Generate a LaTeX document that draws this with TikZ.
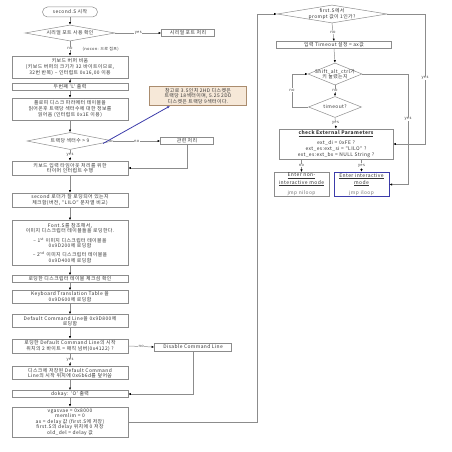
\documentclass[tikz,border=0pt]{standalone}
\usepackage{fontspec}
\setmainfont{Noto Sans CJK KR}[LetterSpace=8]
\usetikzlibrary{arrows.meta,shapes.geometric,calc}
\definecolor{linec}{RGB}{140,140,140}
\definecolor{notefill}{RGB}{246,232,216}
\definecolor{notedraw}{RGB}{170,140,110}
\definecolor{bluel}{RGB}{60,60,170}
\tikzset{
  base/.style={font=\fontsize{4.9}{5.6}\selectfont, text=black!80, inner sep=0.5pt, align=center},
  box/.style={base, draw=linec, line width=0.5pt, minimum width=116pt, text width=114pt, inner sep=1pt},
  sbox/.style={base, draw=linec, line width=0.5pt, inner sep=1pt},
  term/.style={base, draw=linec, line width=0.5pt, rounded corners=5pt, minimum width=55pt, minimum height=10pt},
  dia/.style={diamond, draw=linec, line width=0.5pt, inner sep=0pt},
  conn/.style={draw=linec, line width=0.5pt, -{Latex[length=2.6pt,width=2.2pt,color=black]}},
  lbl/.style={font=\fontsize{4}{4.6}\selectfont, text=black!75, fill=white, inner sep=0.6pt}
}
\begin{document}
\begin{tikzpicture}[x=1pt,y=-1pt]
\useasboundingbox (0,0) rectangle (452,452);

% ---------- left column ----------
\node[term] (start) at (70,12) {second.S 시작};
\node[dia, minimum width=90pt, minimum height=16pt] (d1) at (70,33) {};
\node[base] (d1t) at (d1) {시리얼 포트 사용 확인};
\node[sbox, minimum width=53pt, minimum height=7pt] (serial) at (188,33) {시리얼 포트 처리};
\node[box, minimum height=22pt] (b1) at (70,67) {키보드 버퍼 비움\\(키보드 버퍼의 크기가 32 바이트이므로,\\32번 반복) – 인터럽트 0x16,00 이용};
\node[box, minimum height=7pt] (b2) at (70,87) {두번째 ‘L’ 출력};
\node[box, minimum height=22pt] (b3) at (70,109) {플로피 디스크 파라메터 테이블을\\읽어온후 트랙당 섹터수에 대한 정보를\\읽어옴 (인터럽트 0x1E 이용)};
\node[dia, minimum width=86pt, minimum height=17pt] (d2) at (70,141) {};
\node[base] (d2t) at (d2) {트랙당 섹터수 > 9};
\node[sbox, minimum width=53pt, minimum height=7pt] (rel) at (187,141) {관련 처리};
\node[base, draw=notedraw, fill=notefill, line width=0.5pt, minimum width=97pt, minimum height=19pt, inner sep=1pt] (note) at (198,96) {참고로 3.5인치 2HD 디스켓은\\트랙당 18섹터이며, 5.25 2DD\\디스켓은 트랙당 9섹터이다.};
\node[box, minimum height=14pt] (b4) at (70,168) {키보드 입력 타임아웃 처리를 위한\\타이머 인터럽트 수행};
\node[box, minimum height=14pt] (b5) at (70,200) {second 로더가 잘 로딩되어 있는지\\체크함(버전, “LILO” 문자열 비교)};
\node[box, minimum height=45pt] (b6) at (70,243) {Font.S를 참조해서,\\이미지 디스크립터 테이블들을 로딩한다.\\[3.5pt]– 1\textsuperscript{st} 이미지 디스크립터 테이블을\\0x9D200에 로딩함\\[3.5pt]– 2\textsuperscript{nd} 이미지 디스크립터 테이블을\\0x9D400에 로딩함};
\node[box, minimum height=7pt] (b7) at (70,279) {로딩한 디스크립터 테이블 체크섬 확인};
\node[box, minimum height=13pt] (b8) at (70,297) {Keyboard Translation Table 을\\0x9D600에 로딩함};
\node[box, minimum height=13pt] (b9) at (70,321) {Default Command Line을 0x9D800에\\로딩함};
\node[box, minimum height=14pt] (b10) at (70,346) {로딩한 Default Command Line의 시작\\위치의 2 바이트 = 매직 넘버(0x4122) ?};
\node[sbox, minimum width=77pt, minimum height=8pt] (dis) at (193,347) {Disable Command Line};
\node[box, minimum height=13pt] (b11) at (70,373) {디스크에 저장된 Default Command\\Line의 시작 위치에 0x6b6d를 덮어씀};
\node[box, minimum height=7pt] (b12) at (70,394) {dokay: ‘O’ 출력};
\node[box, minimum height=30pt] (b13) at (70,422) {vgasvae = 0x8000\\memlim = 0\\ax = delay 값 (first.S에 저장)\\first.S의 delay 위치에 0 저장\\old\_del = delay 값};

% ---------- right column ----------
\node[dia, minimum width=110pt, minimum height=18pt] (d3) at (332,14) {};
\node[base] (d3t) at (d3) {first.S에서\\prompt 값이 1인가?};
\node[sbox, minimum width=115pt, minimum height=7pt] (r1) at (334,45) {입력 Timeout 설정 = ax값};
\node[dia, minimum width=54pt, minimum height=22pt] (d4) at (335,74) {};
\node[base] (d4t) at (d4) {Shift\_alt\_ctrl가\\키 눌렸는지};
\node[dia, minimum width=53pt, minimum height=21pt] (d5) at (335,107) {};
\node[base] (d5t) at (d5) {timeout?};
\node[sbox, minimum width=114pt, minimum height=30pt, text width=110pt] (r2) at (336,144) {\textbf{\underline{check External Parameters}}\\[3.5pt]ext\_di = 0xFE ?\\ext\_es:ext\_si = “LILO” ?\\ext\_es:ext\_bx = NULL String ?};
\node[sbox, minimum width=55pt, minimum height=23pt, text width=52pt] (r3) at (301.5,184.5) {{\fontsize{5}{5.4}\selectfont\underline{Enter non-}\\\underline{interactive mode}}\\[3.5pt]{\color{black!55}jmp niloop}};
\node[sbox, draw=bluel, line width=0.8pt, minimum width=55pt, minimum height=23pt, text width=52pt] (r4) at (361.5,184.5) {{\fontsize{5}{5.4}\selectfont\underline{Enter interactive}\\\underline{mode}}\\[3.5pt]{\color{black!55}jmp iloop}};

% ---------- helper coordinates ----------
\coordinate (loopx) at (257,0);
\coordinate (yesx) at (425,0);
\coordinate (yes2x) at (408,0);
\coordinate (nox) at (292,0);
\coordinate (bluestart) at (103,143.5);
\coordinate (blueend) at (170,106);

% ---------- connectors, left ----------
\draw[conn] (start.south) -- (d1.north);
\draw[conn] (d1.east) -- (serial.west) node[lbl, midway] {yes};
\draw[conn] (d1.south) -- (b1.north) node[lbl, midway] (nl1) {no};
\node[base, font=\fontsize{4}{4.6}\selectfont, anchor=west] (nocon) at (82,49) {(nocon: 으로 점프)};
\draw[conn] (b1.south) -- (b2.north);
\draw[conn] (b2.south) -- (b3.north);
\draw[conn] (b3.south) -- (d2.north);
\draw[conn] (d2.east) -- (rel.west) node[lbl, midway] {no};
\draw[conn] (rel.south) |- (b4.east);
\draw[conn] (d2.south) -- (b4.north) node[lbl, midway] {yes};
\draw[bluel, line width=0.8pt, -{Latex[length=3pt,width=2.6pt]}] (bluestart) -- (blueend);
\draw[conn] (b4.south) -- (b5.north);
\draw[conn] (b5.south) -- (b6.north);
\draw[conn] (b6.south) -- (b7.north);
\draw[conn] (b7.south) -- (b8.north);
\draw[conn] (b8.south) -- (b9.north);
\draw[conn] (b9.south) -- (b10.north);
\draw[conn] (b10.east) -- (dis.west) node[lbl, midway] {no};
\draw[conn] (b10.south) -- (b11.north) node[lbl, midway] {yes};
\draw[conn] (b11.south) -- (b12.north);
\draw[conn] (b12.south) -- (b13.north);
\draw[conn] (dis.south) |- (b12.east);
\draw[conn] (b13.east) -- (b13.east -| loopx) -- (loopx |- d3.west) -- (d3.west);

% ---------- connectors, right ----------
\draw[conn] (d3.south) -- (r1.north) node[lbl, midway] {no};
\draw[conn] (d3.east) -- (d3.east -| yesx) -- (yesx |- r2.east) -- (r2.east);
\node[lbl] (yl1) at (425,78) {yes};
\draw[conn] (r1.south) -- (d4.north);
\draw[conn] (d4.east) -- (d4.east -| yes2x) -- (yes2x |- r4.east) -- (r4.east);
\node[lbl] (yl2) at (408,119) {yes};
\draw[conn] (d4.south) -- (d5.north) node[lbl, midway] {no};
\draw[conn] (d5.west) -- (d5.west -| nox) -- (nox |- d4.west) -- (d4.west);
\node[lbl] (nl2) at (292,90) {no};
\draw[conn] (d5.south) -- (r2.north) node[lbl, midway] {yes};
\draw[conn] (r2.south -| r3.north) -- (r3.north) node[lbl, midway] {no};
\draw[conn] (r2.south -| r4.north) -- (r4.north) node[lbl, midway] {yes};
\end{tikzpicture}
\end{document}
